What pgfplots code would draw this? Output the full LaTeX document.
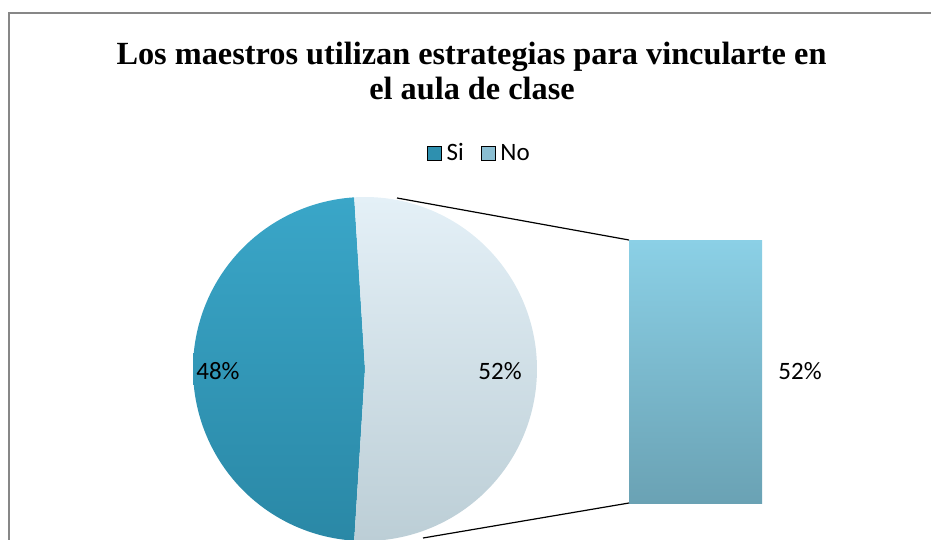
\documentclass[border=0pt]{standalone}
\usepackage{fontspec}
\setmainfont{Liberation Serif}
\newfontfamily\calib{Carlito}
\usepackage{pgfplots}
\pgfplotsset{compat=1.18}
\definecolor{siTop}{HTML}{3AA6C8}
\definecolor{siBot}{HTML}{2A88A6}
\definecolor{noTop}{HTML}{E4F0F7}
\definecolor{noBot}{HTML}{BCCED6}
\definecolor{barTop}{HTML}{8BD0E6}
\definecolor{barBot}{HTML}{6AA2B4}
\definecolor{legSi}{HTML}{2E90AF}
\definecolor{legNo}{HTML}{8ABED2}
\definecolor{chartframe}{HTML}{878787}
% data: share of answers (percent)
\def\valSi{48}
\def\valNo{52}
\pgfmathsetmacro\halfNo{\valNo*1.8}
\pgfmathsetmacro\siEnd{360-\halfNo}
\begin{document}
\begin{tikzpicture}
\begin{axis}[
  scale only axis, width=931pt, height=539pt,
  xmin=0, xmax=931, ymin=0, ymax=539,
  axis lines=none, clip=true,
  legend columns=2,
  legend style={at={(axis cs:481,386)}, anchor=center, draw=none, fill=none,
    font=\calib\fontsize{25}{29}\selectfont,
    /tikz/every even column/.append style={column sep=12pt},
    nodes={inner xsep=5pt, inner ysep=0pt},
    inner sep=0pt},
  legend image code/.code={\fill[#1] (0pt,-7pt) rectangle (14pt,7pt);},
]
\addlegendimage{fill=legSi}
\addlegendentry{Si}
\addlegendimage{fill=legNo}
\addlegendentry{No}
% frame (right and bottom sides fall outside the picture)
\draw[color=chartframe, line width=2pt] (axis cs:8.5,-40) rectangle (axis cs:1000,525.5);
% pie: Si slice
\addplot[draw=none, top color=siTop, bottom color=siBot, domain=\halfNo:\siEnd, samples=120, forget plot]
  ({365+172*cos(x)}, {170+172*sin(x)}) -- (axis cs:365,170) -- cycle;
% pie: No slice
\addplot[draw=none, top color=noTop, bottom color=noBot, domain=-\halfNo:\halfNo, samples=120, forget plot]
  ({365+172*cos(x)}, {170+172*sin(x)}) -- (axis cs:365,170) -- cycle;
% bar of the No share
\addplot[draw=none, top color=barTop, bottom color=barBot, forget plot]
  coordinates {(629,36) (762,36) (762,299) (629,299)} -- cycle;
% connector lines
\addplot[black, line width=1.2pt, forget plot] coordinates {(397,341) (629,299)};
\addplot[black, line width=1.2pt, forget plot] coordinates {(423,1) (629,36)};
% labels
\node[font=\calib\fontsize{25}{30}\selectfont] at (axis cs:218,168) {\valSi\%};
\node[font=\calib\fontsize{25}{30}\selectfont] at (axis cs:500,168) {\valNo\%};
\node[font=\calib\fontsize{25}{30}\selectfont] at (axis cs:800,168) {\valNo\%};
% title
\node[anchor=base, font=\bfseries\fontsize{32.3}{38}\selectfont] at (axis cs:471.5,474) {Los maestros utilizan estrategias para vincularte en};
\node[anchor=base, font=\bfseries\fontsize{32.3}{38}\selectfont] at (axis cs:472,439) {el aula de clase};
\end{axis}
\pgfresetboundingbox
\path (current axis.south west) rectangle (current axis.north east);
\end{tikzpicture}
\end{document}
